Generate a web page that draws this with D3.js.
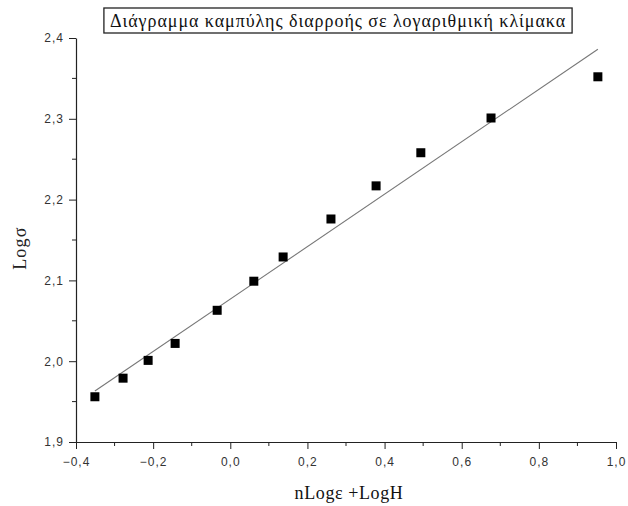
<!DOCTYPE html>
<html>
<head>
<meta charset="utf-8">
<script src="https://cdn.jsdelivr.net/npm/d3@7"></script>
<style>
  body { margin: 0; background: #fff; }
  svg { display: block; }
</style>
</head>
<body>
<svg id="chart" width="628" height="506"></svg>
<script>
// data
const xValues = [-0.351, -0.278, -0.213, -0.143, -0.034, 0.061, 0.137, 0.261, 0.378, 0.494, 0.676, 0.953];
const yValues = [1.956, 1.979, 2.001, 2.022, 2.063, 2.099, 2.129, 2.176, 2.217, 2.258, 2.301, 2.352];
const xTicks = [-0.4, -0.2, 0.0, 0.2, 0.4, 0.6, 0.8, 1.0];
const yTicks = [1.9, 2.0, 2.1, 2.2, 2.3, 2.4];
const title = "Διάγραμμα καμπύλης διαρροής σε λογαριθμική κλίμακα";
const xTitle = "nLogε +LogH";
const yTitle = "Logσ";

const svg = d3.select("#chart");
const margin = { left: 76, right: 12, top: 38, bottom: 64 };
const width = 628, height = 506;

const x = d3.scaleLinear().domain([-0.4, 1.0]).range([margin.left, width - margin.right]);
const y = d3.scaleLinear().domain([1.9, 2.4]).range([height - margin.bottom, margin.top]);

const comma = v => d3.format(".1f")(v).replace(".", ",");
const tickFont = "Liberation Sans, Arial, sans-serif";
const serif = "Liberation Serif, Times New Roman, serif";

// linear fit through the points
const mx = d3.mean(xValues), my = d3.mean(yValues);
const sxy = d3.sum(xValues, (v, i) => (v - mx) * (yValues[i] - my));
const sxx = d3.sum(xValues, v => (v - mx) * (v - mx));
const slope = sxy / sxx, icpt = my - slope * mx;
const fitX = d3.extent(xValues);

svg.append("line")
  .attr("x1", x(fitX[0])).attr("y1", y(icpt + slope * fitX[0]))
  .attr("x2", x(fitX[1])).attr("y2", y(icpt + slope * fitX[1]))
  .attr("stroke", "#777")
  .attr("stroke-width", 1.1);

// points
svg.append("g")
  .selectAll("rect")
  .data(xValues.map((v, i) => [v, yValues[i]]))
  .join("rect")
  .attr("x", d => x(d[0]) - 4.5)
  .attr("y", d => y(d[1]) - 4.5)
  .attr("width", 9)
  .attr("height", 9)
  .attr("fill", "#000");

// axes
const xAxis = svg.append("g")
  .attr("transform", `translate(0,${y(1.9)})`)
  .call(d3.axisBottom(x).tickValues(xTicks).tickFormat(comma).tickSize(7).tickSizeOuter(0).tickPadding(8));
xAxis.append("g")
  .selectAll("line")
  .data(d3.range(-0.3, 1.0, 0.2))
  .join("line")
  .attr("x1", d => x(d)).attr("x2", d => x(d))
  .attr("y1", 0).attr("y2", 4)
  .attr("stroke", "#222");

const yAxis = svg.append("g")
  .attr("transform", `translate(${x(-0.4)},0)`)
  .call(d3.axisLeft(y).tickValues(yTicks).tickFormat(comma).tickSize(7).tickSizeOuter(0).tickPadding(5));
yAxis.append("g")
  .selectAll("line")
  .data(d3.range(1.95, 2.4, 0.1))
  .join("line")
  .attr("x1", 0).attr("x2", -4)
  .attr("y1", d => y(d)).attr("y2", d => y(d))
  .attr("stroke", "#222");

[xAxis, yAxis].forEach(a => {
  a.select(".domain").attr("stroke", "#222").attr("stroke-width", 1.2);
  a.selectAll(".tick line").attr("stroke", "#222");
  a.selectAll("text")
    .attr("font-family", tickFont)
    .attr("font-size", 12)
    .attr("letter-spacing", 1)
    .attr("fill", "#333");
});

// axis titles
svg.append("text")
  .attr("x", 349)
  .attr("y", 499)
  .attr("text-anchor", "middle")
  .attr("font-family", serif)
  .attr("font-size", 18)
  .attr("letter-spacing", 0.6)
  .attr("fill", "#111")
  .text(xTitle);

svg.append("text")
  .attr("transform", `translate(26,${y(2.14)}) rotate(-90)`)
  .attr("text-anchor", "middle")
  .attr("font-family", serif)
  .attr("font-size", 18)
  .attr("letter-spacing", 1.2)
  .attr("fill", "#222")
  .text(yTitle);

// boxed title
const tg = svg.append("g");
const tt = tg.append("text")
  .attr("x", 338)
  .attr("y", 27)
  .attr("text-anchor", "middle")
  .attr("font-family", serif)
  .attr("font-size", 18)
  .attr("letter-spacing", 0.95)
  .attr("fill", "#111")
  .text(title);
const bb = tt.node().getBBox();
tg.insert("rect", "text")
  .attr("x", bb.x - 6).attr("y", 8)
  .attr("width", bb.width + 12).attr("height", 25)
  .attr("fill", "none")
  .attr("stroke", "#222")
  .attr("stroke-width", 1.3);
</script>
</body>
</html>
